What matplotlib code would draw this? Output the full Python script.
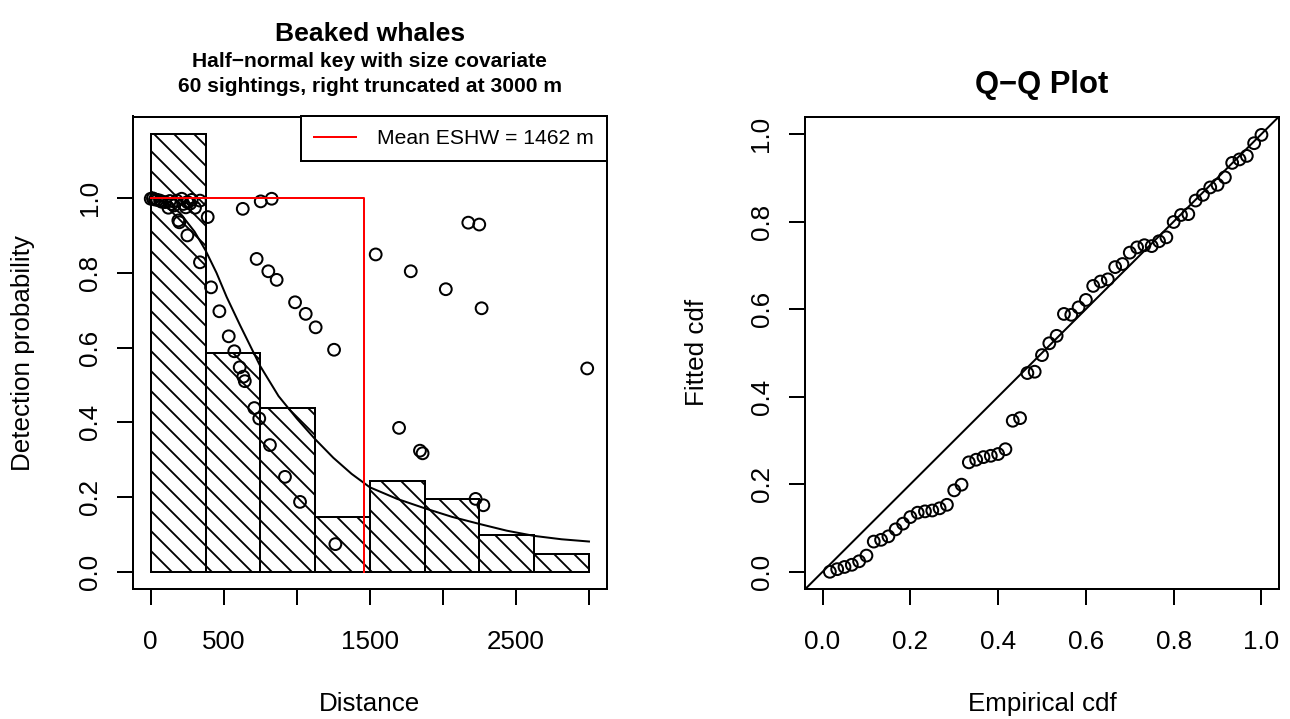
import numpy as np
import matplotlib
matplotlib.use('Agg')
import matplotlib.pyplot as plt

plt.rcParams['font.family'] = ['Liberation Sans', 'DejaVu Sans']
plt.rcParams['hatch.linewidth'] = 1.1

# Histogram of perpendicular distances, 8 bins of 375 m, scaled to the detection function
bin_edges = [0, 375, 750, 1125, 1500, 1875, 2250, 2625, 3000]
bin_counts = [24, 12, 9, 3, 5, 4, 2, 1]
bar_scale = 0.0488

# Average fitted detection function
curve_dist = [0, 100, 200, 300, 375, 450, 520, 611, 750, 875, 1000, 1125, 1250,
              1375, 1500, 1687, 1875, 2062, 2250, 2437, 2625, 2812, 3000]
curve_prob = [1.0, 0.99, 0.96, 0.91, 0.86, 0.80, 0.735, 0.66, 0.55, 0.47, 0.41, 0.355,
              0.305, 0.262, 0.226, 0.195, 0.170, 0.147, 0.128, 0.110, 0.096, 0.087, 0.081]

# Estimated detection probability for each sighting
obs_dist = [0, 15, 29, 45, 64, 75, 98, 121, 130, 144, 160, 178, 212, 223, 240, 251,
            270, 281, 303, 337, 189, 196, 251, 337,
            390, 413, 470, 534, 572, 609, 630, 634, 644, 709, 725, 743,
            753, 805, 816, 828, 862, 919, 988, 1022, 1061,
            1129, 1255, 1264,
            1540, 1700, 1780, 1843, 1861,
            2020, 2174, 2224, 2249,
            2265, 2277,
            2988]
obs_prob = [0.998, 0.999, 0.996, 0.995, 0.993, 0.99, 0.989, 0.974, 0.992, 0.984, 0.98, 0.993,
            0.998, 0.984, 0.975, 0.989, 0.985, 0.995, 0.974, 0.993, 0.94, 0.935, 0.90, 0.828,
            0.949, 0.761, 0.697, 0.63, 0.59, 0.547, 0.971, 0.522, 0.51, 0.438, 0.837, 0.41,
            0.991, 0.804, 0.339, 0.998, 0.781, 0.254, 0.721, 0.187, 0.690,
            0.654, 0.594, 0.074,
            0.849, 0.385, 0.804, 0.324, 0.317,
            0.756, 0.934, 0.195, 0.929,
            0.705, 0.178,
            0.544]

eshw = 1462

# Q-Q plot: fitted cdf at each ordered observation
fitted_cdf = [0.000, 0.006, 0.011, 0.016, 0.024, 0.037, 0.069, 0.073, 0.081, 0.097,
              0.110, 0.125, 0.135, 0.138, 0.140, 0.145, 0.153, 0.186, 0.199, 0.250,
              0.256, 0.262, 0.265, 0.269, 0.280, 0.345, 0.351, 0.454, 0.457, 0.495,
              0.522, 0.539, 0.589, 0.587, 0.604, 0.621, 0.653, 0.663, 0.668, 0.696,
              0.703, 0.729, 0.741, 0.746, 0.744, 0.755, 0.764, 0.799, 0.815, 0.817,
              0.848, 0.861, 0.878, 0.884, 0.901, 0.934, 0.942, 0.950, 0.979, 0.998]
n_obs = len(fitted_cdf)
empirical_cdf = np.arange(1, n_obs + 1) / n_obs

W, H = 1290, 719
DPI = 120
FS = 15.6
LW = 1.2
MS = 50

fig = plt.figure(figsize=(W / DPI, H / DPI), dpi=DPI)
ax1 = fig.add_axes([133.2 / W, (H - 589.3) / H, (606.5 - 133.2) / W, (589.3 - 116.5) / H])
ax2 = fig.add_axes([805 / W, (H - 589.3) / H, (1279 - 805) / W, (589.3 - 116.5) / H])


def style_axes(ax):
    for sp in ax.spines.values():
        sp.set_linewidth(LW)
    ax.tick_params(direction='out', length=9.6, width=LW, labelsize=FS, colors='black')
    ax.tick_params(axis='x', pad=14.8)
    ax.tick_params(axis='y', pad=9.3)
    plt.setp(ax.get_yticklabels(), rotation=90, va='center')


# --- left: detection function ---
heights = np.array(bin_counts) * bar_scale
ax1.bar(bin_edges[:-1], heights, width=np.diff(bin_edges), align='edge',
        facecolor='white', edgecolor='black', hatch='\\\\', linewidth=LW, zorder=1)
ax1.plot(curve_dist, curve_prob, color='black', lw=LW, zorder=2)
ax1.scatter(obs_dist, obs_prob, s=MS, facecolors='none', edgecolors='black',
            linewidths=LW, zorder=3)
ax1.plot([0, eshw, eshw], [1, 1, 0], color='red', lw=LW, zorder=4,
         label=f'Mean ESHW = {eshw} m')

top = heights.max()
ax1.set_xlim(-120, 3120)
ax1.set_ylim(-0.04 * top, 1.04 * top)
ax1.set_xticks(range(0, 3001, 500))
ax1.set_xticklabels(['0', '500', '', '1500', '', '2500', ''])
ax1.set_yticks([0, 0.2, 0.4, 0.6, 0.8, 1.0])
ax1.set_yticklabels(['0.0', '0.2', '0.4', '0.6', '0.8', '1.0'])
style_axes(ax1)

leg = ax1.legend(loc='upper right', borderaxespad=0, fancybox=False, edgecolor='black',
                 framealpha=1, handlelength=2.0, handletextpad=1.0, borderpad=0.6,
                 fontsize=12.7)
leg.get_frame().set_linewidth(LW)

ax1.set_xlabel('Distance', fontsize=FS, va='baseline')
ax1.xaxis.set_label_coords(0.5, (589.3 - 711) / 472.8)
ax1.set_ylabel('Detection probability', fontsize=FS, va='center')
ax1.yaxis.set_label_coords((23 - 133.2) / 473.3, 0.5)

cx1 = (133.2 + 606.5) / 2 / W
fig.text(cx1, 1 - 41 / H, 'Beaked whales', ha='center', va='baseline',
         fontsize=15.9, fontweight='bold')
fig.text(cx1, 1 - 67 / H, 'Half\u2212normal key with size covariate', ha='center',
         va='baseline', fontsize=12.6, fontweight='bold')
fig.text(cx1, 1 - 91.5 / H, '60 sightings, right truncated at 3000 m', ha='center',
         va='baseline', fontsize=12.6, fontweight='bold')

# --- right: Q-Q plot ---
ax2.scatter(empirical_cdf, fitted_cdf, s=MS, facecolors='none', edgecolors='black',
            linewidths=LW, zorder=3)
ax2.axline((0, 0), (1, 1), color='black', lw=LW, zorder=2)
ax2.set_xlim(-0.04, 1.04)
ax2.set_ylim(-0.04, 1.04)
ticks = [0, 0.2, 0.4, 0.6, 0.8, 1.0]
tick_text = ['0.0', '0.2', '0.4', '0.6', '0.8', '1.0']
ax2.set_xticks(ticks)
ax2.set_xticklabels(tick_text)
ax2.set_yticks(ticks)
ax2.set_yticklabels(tick_text)
style_axes(ax2)

ax2.set_xlabel('Empirical cdf', fontsize=FS, va='baseline')
ax2.xaxis.set_label_coords(0.5, (589.3 - 711) / 472.8)
ax2.set_ylabel('Fitted cdf', fontsize=FS, va='center')
ax2.yaxis.set_label_coords((697 - 805) / 474, 0.5)

fig.text((805 + 1279) / 2 / W, 1 - 93 / H, 'Q\u2212Q Plot', ha='center', va='baseline',
         fontsize=18.6, fontweight='bold')

fig.savefig('out.png', dpi=DPI)
